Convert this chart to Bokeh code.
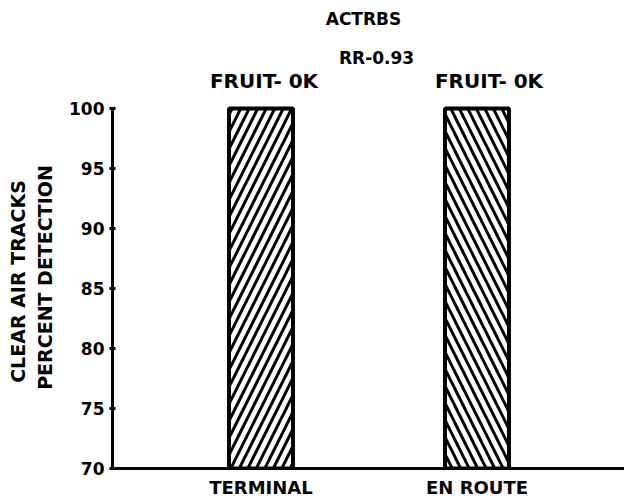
import math
from bokeh.plotting import figure
from bokeh.layouts import row
from bokeh.models import Range1d, FixedTicker, Label, ColumnDataSource
from bokeh.embed import file_html
from bokeh.resources import INLINE

# ---- data ----
categories = ["TERMINAL", "EN ROUTE"]
x_pos = [1, 2]
detection = [100, 100]
baseline = 70
fruit_labels = ["FRUIT- 0K", "FRUIT- 0K"]
hatches = ["/", "\\"]
y_ticks = [70, 75, 80, 85, 90, 95, 100]
title_text = "ACTRBS"
subtitle_text = "RR-0.93"
y_label_lines = ["CLEAR AIR TRACKS", "PERCENT DETECTION"]

FONT = "DejaVu Sans"
TOTAL_H = 496
LEFT_W = 60

# ---- main chart ----
x_start, x_end = 0.3125, 2.6829
p = figure(
    output_backend="svg", toolbar_location=None,
    frame_width=512, frame_height=468,
    x_range=Range1d(x_start, x_end), y_range=Range1d(70, 109),
    min_border_left=112 - LEFT_W, min_border_right=0, min_border_top=0, min_border_bottom=26,
)
p.outline_line_color = None
p.grid.visible = False
p.background_fill_color = "white"
p.border_fill_color = "white"

src = ColumnDataSource(dict(x=x_pos, top=detection, hatch=hatches))
p.vbar(x="x", top="top", bottom=baseline, width=0.296, source=src,
       fill_color="white", line_color="black", line_width=4,
       hatch_pattern="hatch", hatch_color="black", hatch_weight=3, hatch_scale=17)

# y axis
p.yaxis.ticker = FixedTicker(ticks=y_ticks)
p.yaxis.bounds = (70, 100)
p.yaxis.axis_line_width = 3
p.yaxis.axis_line_color = "black"
p.yaxis.major_tick_in = 3
p.yaxis.major_tick_out = 3
p.yaxis.major_tick_line_width = 3
p.yaxis.minor_tick_line_color = None
p.yaxis.major_label_standoff = 5
p.yaxis.major_label_text_font = FONT
p.yaxis.major_label_text_font_style = "bold"
p.yaxis.major_label_text_font_size = "17px"
p.yaxis.major_label_text_color = "black"

# x axis
p.xaxis.ticker = FixedTicker(ticks=x_pos)
p.xaxis.major_label_overrides = {x: c for x, c in zip(x_pos, categories)}
p.xaxis.axis_line_width = 3
p.xaxis.axis_line_color = "black"
p.xaxis.major_tick_line_color = None
p.xaxis.minor_tick_line_color = None
p.xaxis.major_label_standoff = 2
p.xaxis.major_label_text_font = FONT
p.xaxis.major_label_text_font_style = "bold"
p.xaxis.major_label_text_font_size = "18px"
p.xaxis.major_label_text_color = "black"

def add_label(fig, x, y, text, size, xo=0, yo=0, angle=0):
    fig.add_layout(Label(x=x, y=y, text=text, x_offset=xo, y_offset=yo, angle=angle,
                         text_align="center", text_baseline="middle",
                         text_font=FONT, text_font_style="bold",
                         text_font_size=size, text_color="black"))

# titles (inside the frame, above the 100 line)
add_label(p, 1.4745, 100, title_text, "17px", yo=90)
add_label(p, 1.535, 100, subtitle_text, "17px", yo=51)

# bar annotations
for x, top, t, xo in zip(x_pos, detection, fruit_labels, [3, 12]):
    add_label(p, x, top, t, "20px", xo=xo, yo=28)

# ---- narrow panel holding the two-line y-axis title ----
lab = figure(
    output_backend="svg", toolbar_location=None,
    frame_width=LEFT_W, frame_height=TOTAL_H,
    x_range=Range1d(0, LEFT_W), y_range=Range1d(0, TOTAL_H),
    min_border_left=0, min_border_right=0, min_border_top=0, min_border_bottom=0,
)
lab.axis.visible = False
lab.grid.visible = False
lab.outline_line_color = None
lab.border_fill_color = "white"
for t, xx, yy in zip(y_label_lines, [17, 44], [TOTAL_H - 281, TOTAL_H - 277]):
    add_label(lab, xx, yy, t, "19px", angle=math.pi / 2)

layout = row(lab, p)
open("out.html", "w").write(file_html(layout, INLINE))
